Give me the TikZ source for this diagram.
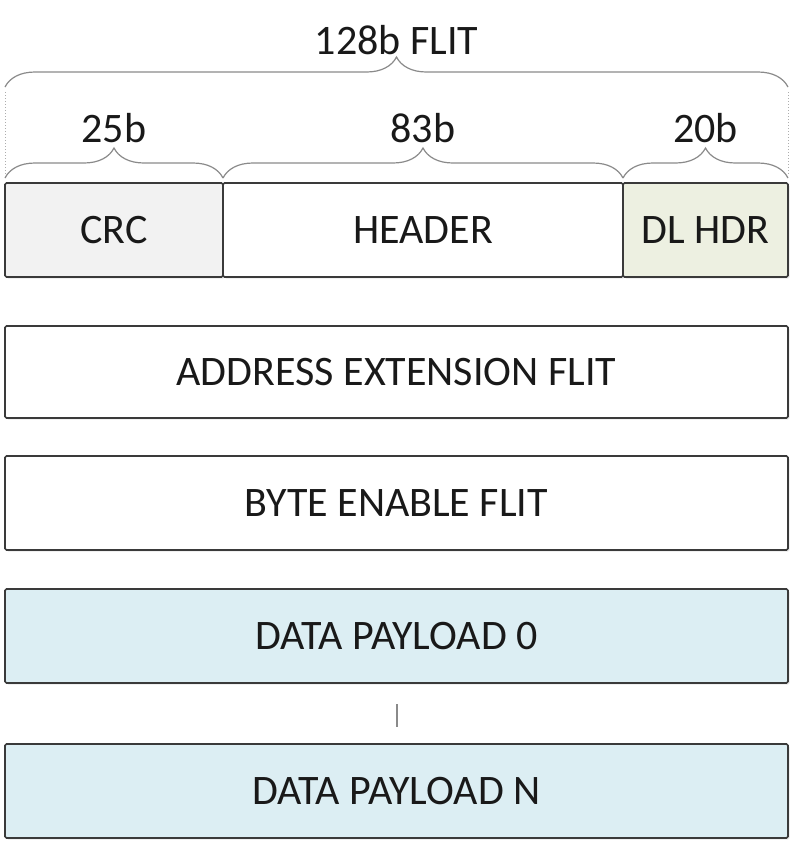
\documentclass[tikz,border=0pt]{standalone}
\usepackage{fontspec}
\setmainfont{Carlito}
\usetikzlibrary{decorations.pathreplacing,shadows}
\definecolor{crcgray}{HTML}{F2F2F2}
\definecolor{dlolive}{HTML}{EDF0E1}
\definecolor{datablue}{HTML}{DCEEF3}
\definecolor{edge}{HTML}{3A3A3A}
\definecolor{bracegray}{HTML}{8A8A8A}
\tikzset{
  field/.style={draw=edge, line width=0.8pt, rounded corners=0.8pt, inner sep=0pt,
    outer sep=0pt, minimum height=47pt, text=black!90,
    font=\fontsize{21}{25}\selectfont,
    drop shadow={opacity=0.18, shadow xshift=0.8pt, shadow yshift=-0.8pt}},
  fbrace/.style={draw=bracegray, line width=0.6pt,
    decorate, decoration={brace, amplitude=15pt}},
  blabel/.style={font=\fontsize{21}{25}\selectfont, text=black!90}
}
\begin{document}
\begin{tikzpicture}[x=0.5pt, y=-0.5pt]
\useasboundingbox (0,0) rectangle (800,848);
% fields

\node[field, fill=crcgray, minimum width=109pt] (crc) at (114,230) {CRC};
\node[field, fill=white, minimum width=200pt] (hdr) at (423,230) {HEADER};
\node[field, fill=dlolive, minimum width=82.5pt] (dlhdr) at (705.5,230) {DL HDR};

\node[field, fill=white, minimum width=391.5pt, minimum height=46pt] (addr) at (396.5,372) {ADDRESS EXTENSION FLIT};
\node[field, fill=white, minimum width=391.5pt] (byte) at (396.5,503) {BYTE ENABLE FLIT};
\node[field, fill=datablue, minimum width=391.5pt] (data0) at (396.5,636) {DATA PAYLOAD 0};
\node[field, fill=datablue, minimum width=391.5pt] (dataN) at (396.5,791) {DATA PAYLOAD N};

\coordinate (gapa) at (397,704);
\coordinate (gapb) at (397,727);
\coordinate (lefta) at (5,92);
\coordinate (leftb) at (5,174);
\coordinate (righta) at (788,92);
\coordinate (rightb) at (788,174);

% braces
\draw[fbrace] ([yshift=2.5pt]crc.north west) -- ([yshift=2.5pt]crc.north east)
  node[blabel, midway, yshift=25pt] (w25) {25b};
\draw[fbrace] ([yshift=2.5pt]hdr.north west) -- ([yshift=2.5pt]hdr.north east)
  node[blabel, midway, yshift=25pt] (w83) {83b};
\draw[fbrace] ([yshift=2.5pt]dlhdr.north west) -- ([yshift=2.5pt]dlhdr.north east)
  node[blabel, midway, yshift=25pt] (w20) {20b};
\draw[fbrace] ([yshift=48pt]crc.north west) -- ([yshift=48pt]dlhdr.north east)
  node[blabel, midway, yshift=23.5pt] (w128) {128b FLIT};

% guides
\draw[bracegray!70, line width=0.5pt, densely dotted] (lefta) -- (leftb);
\draw[bracegray!70, line width=0.5pt, densely dotted] (righta) -- (rightb);
\draw[bracegray, line width=0.8pt] (gapa) -- (gapb);

\end{tikzpicture}
\end{document}
